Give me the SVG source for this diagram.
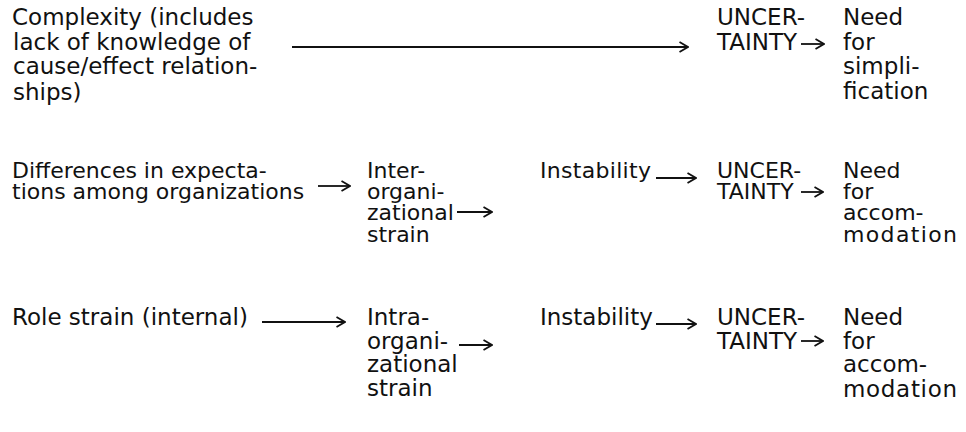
<svg xmlns="http://www.w3.org/2000/svg" width="966" height="432" viewBox="0 0 966 432">
<style>
text{font-family:"DejaVu Sans","Liberation Sans",sans-serif;font-size:23px;fill:#111}
.r2 text{font-size:22px}
.c line{stroke:#111;stroke-width:1.8;fill:none}
</style>
<defs>
<marker id="ah" viewBox="0 0 10 12" refX="9.5" refY="6" markerWidth="10" markerHeight="12" markerUnits="userSpaceOnUse" orient="auto">
<path d="M1,1 L9.5,6 L1,11" fill="none" stroke="#111" stroke-width="1.8"/>
</marker>
</defs>
<rect width="966" height="432" fill="#fff"/>
<g id="n-complexity">
<text x="12" y="25">Complexity (includes</text>
<text x="13" y="50">lack of knowledge of</text>
<text x="13" y="74">cause/effect relation-</text>
<text x="13" y="100">ships)</text>
</g>
<g id="n-uncertainty-1">
<text x="717" y="25">UNCER-</text>
<text x="717" y="50">TAINTY</text>
</g>
<g id="n-need-simplification">
<text x="843" y="25">Need</text>
<text x="843" y="50">for</text>
<text x="843" y="74">simpli-</text>
<text x="843" y="99">fication</text>
</g>
<g class="r2">
<g id="n-differences">
<text x="12" y="178">Differences in expecta-</text>
<text x="12" y="199">tions among organizations</text>
</g>
<g id="n-inter-strain">
<text x="367" y="178">Inter-</text>
<text x="367" y="199">organi-</text>
<text x="367" y="220">zational</text>
<text x="367" y="242">strain</text>
</g>
<g id="n-instability-2">
<text x="540" y="178" textLength="111" lengthAdjust="spacing">Instability</text>
</g>
<g id="n-uncertainty-2">
<text x="717" y="178">UNCER-</text>
<text x="717" y="199">TAINTY</text>
</g>
<g id="n-need-accommodation-2">
<text x="843" y="178">Need</text>
<text x="843" y="199">for</text>
<text x="843" y="220">accom-</text>
<text x="843" y="242" textLength="114" lengthAdjust="spacing">modation</text>
</g>
</g>
<g id="n-role-strain">
<text x="12" y="325">Role strain (internal)</text>
</g>
<g id="n-intra-strain">
<text x="367" y="325">Intra-</text>
<text x="367" y="349">organi-</text>
<text x="367" y="372">zational</text>
<text x="367" y="396">strain</text>
</g>
<g id="n-instability-3">
<text x="540" y="325">Instability</text>
</g>
<g id="n-uncertainty-3">
<text x="717" y="325">UNCER-</text>
<text x="717" y="349">TAINTY</text>
</g>
<g id="n-need-accommodation-3">
<text x="843" y="325">Need</text>
<text x="843" y="349">for</text>
<text x="843" y="372">accom-</text>
<text x="843" y="397" textLength="114" lengthAdjust="spacing">modation</text>
</g>
<g id="connectors" class="c">
<line x1="292" y1="47" x2="688" y2="47" marker-end="url(#ah)"/>
<line x1="801" y1="44" x2="824" y2="44" marker-end="url(#ah)"/>
<line x1="318" y1="186" x2="350" y2="186" marker-end="url(#ah)"/>
<line x1="457" y1="212" x2="492" y2="212" marker-end="url(#ah)"/>
<line x1="656" y1="178" x2="696" y2="178" marker-end="url(#ah)"/>
<line x1="801" y1="192" x2="823" y2="192" marker-end="url(#ah)"/>
<line x1="262" y1="322" x2="345" y2="322" marker-end="url(#ah)"/>
<line x1="459" y1="345" x2="492" y2="345" marker-end="url(#ah)"/>
<line x1="656" y1="324" x2="696" y2="324" marker-end="url(#ah)"/>
<line x1="801" y1="341" x2="823" y2="341" marker-end="url(#ah)"/>
</g>
</svg>
